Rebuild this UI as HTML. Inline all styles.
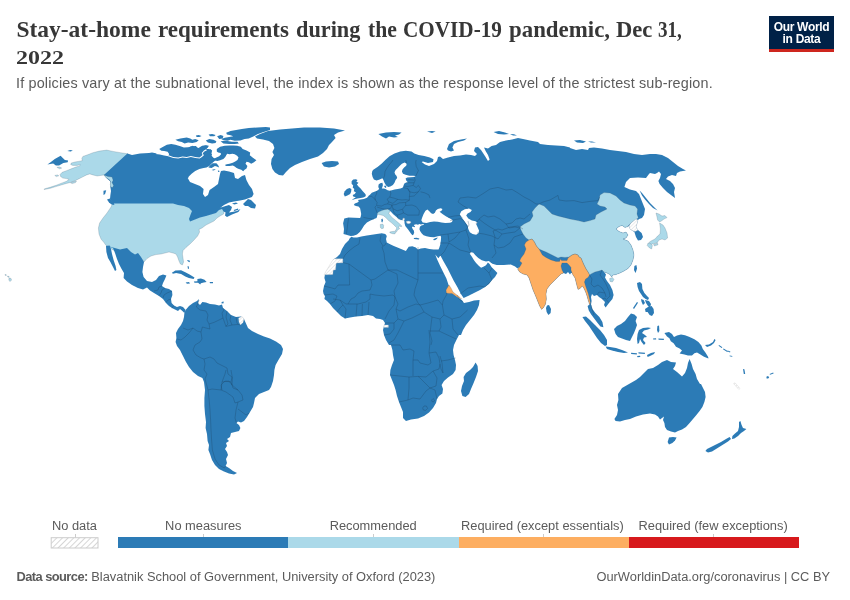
<!DOCTYPE html>
<html lang="en">
<head>
<meta charset="utf-8">
<title>Stay-at-home requirements during the COVID-19 pandemic</title>
<style>
html,body{margin:0;padding:0;background:#fff;}
body{width:850px;height:600px;position:relative;overflow:hidden;font-family:"Liberation Sans",sans-serif;}
.title{position:absolute;left:16px;top:16.6px;margin:0;font-family:"Liberation Serif",serif;font-weight:700;font-size:23.5px;line-height:25px;color:#373737;letter-spacing:0;white-space:nowrap;width:700px;height:52px;}
.title .w{position:absolute;top:0;display:inline-block;transform-origin:0 0;}
.title .yr{position:absolute;left:0;top:29.4px;font-size:18px;letter-spacing:0;display:inline-block;transform:scaleX(1.33);transform-origin:0 0;}
.subtitle{position:absolute;left:16px;top:73.9px;margin:0;font-size:14.4px;line-height:18px;color:#5b5b5b;white-space:nowrap;letter-spacing:0.165px;}
.logo{position:absolute;left:769px;top:16px;width:65px;height:33px;background:#002147;border-bottom:3px solid #ce261e;color:#fff;font-weight:700;font-size:12px;line-height:12px;text-align:center;letter-spacing:-0.3px;}
.logo span{display:block;}
.logo .l1{margin-top:4.6px;}
.legend{position:absolute;left:0;top:0;}
.lbl{position:absolute;top:518px;font-size:12.85px;line-height:15px;color:#5b5b5b;white-space:nowrap;transform:translateX(-50%);}
.bar{position:absolute;top:537.2px;height:11.3px;}
.tick{position:absolute;top:533.5px;width:1px;height:4px;background:#ccc;}
.footer{position:absolute;top:569.3px;font-size:12.85px;line-height:15px;color:#5b5b5b;white-space:nowrap;}
.footer b{font-weight:700;letter-spacing:-0.55px;}
svg{position:absolute;left:0;top:0;}
</style>
</head>
<body>
<h1 class="title"><span class="w" style="left:0.4px;transform:scaleX(1.000)">Stay-at-home</span> <span class="w" style="left:142.4px;transform:scaleX(0.980)">requirements</span> <span class="w" style="left:280.4px;transform:scaleX(0.947)">during</span> <span class="w" style="left:352.4px;transform:scaleX(0.923)">the</span> <span class="w" style="left:387.4px;transform:scaleX(0.902)">COVID-19</span> <span class="w" style="left:493.4px;transform:scaleX(0.973)">pandemic,</span> <span class="w" style="left:600.4px;transform:scaleX(0.961)">Dec</span> <span class="w" style="left:642.4px;transform:scaleX(0.811)">31,</span> <span class="yr">2022</span></h1>
<p class="subtitle">If policies vary at the subnational level, the index is shown as the response level of the strictest sub-region.</p>
<div class="logo"><span class="l1">Our World</span><span>in Data</span></div>
<svg width="850" height="600" viewBox="0 0 850 600">
<defs><pattern id="hatchm" patternUnits="userSpaceOnUse" width="2.6" height="2.6" patternTransform="rotate(45)"><rect width="2.6" height="2.6" fill="#fff"/><line x1="0" y1="0" x2="0" y2="2.6" stroke="#e0e0e0" stroke-width="1.2"/></pattern></defs>
<g stroke="#34495e" stroke-opacity="0.55" stroke-width="0.35" stroke-linejoin="round">
<path d="M113.6,201.0L111.0,207.0L107.0,213.0L103.0,218.0L99.6,223.0L98.4,228.0L99.0,234.0L101.0,239.0L104.0,242.6L106.0,245.4L113.0,250.0L120.0,252.0L127.0,251.0L131.0,254.0L135.0,256.0L138.0,255.0L141.0,258.0L144.0,262.0L147.0,258.6L151.0,256.0L156.0,254.6L161.0,254.0L165.0,253.0L169.0,252.0L173.0,253.0L176.0,254.0L177.6,257.0L179.0,261.0L180.4,264.0L182.4,265.0L183.6,262.0L183.0,258.0L182.4,254.0L183.0,250.6L186.0,247.4L190.0,244.0L194.0,240.0L197.6,236.0L199.6,232.0L199.0,229.4L202.0,228.0L206.0,225.0L210.0,223.0L214.0,221.0L217.0,218.0L220.0,216.0L223.6,214.0L224.4,210.0L222.0,207.0L210.0,207.0L190.0,207.0L170.0,201.0Z" fill="#abd9e9"/>
<path d="M127.9,153.8L120.5,152.7L113.1,151.4L106.7,150.1L99.3,151.1L92.9,152.7L87.6,154.8L82.9,156.4L81.8,158.5L82.4,160.6L79.7,161.2L74.9,162.0L71.2,163.1L70.7,164.6L72.8,165.4L77.1,165.4L80.2,164.6L79.7,165.9L76.0,167.0L71.8,168.6L66.5,170.7L62.2,172.3L60.1,174.4L60.6,176.5L62.8,178.1L66.5,178.6L69.1,179.4L66.5,181.3L62.2,182.9L56.9,185.0L50.6,187.1L44.2,188.9L44.2,189.6L50.6,188.2L55.9,186.6L61.2,185.0L66.5,183.4L70.7,182.4L74.9,180.8L78.1,179.2L82.4,177.1L86.6,174.9L89.8,173.9L92.9,174.9L97.2,176.0L104.1,174.9L107.8,176.5L112.0,177.1L113.1,180.2L112.0,182.4L113.6,185.5L112.5,187.6L110.9,187.1L110.4,184.5L110.7,181.8L109.4,179.7L106.7,178.1L104.4,175.2Z" fill="#abd9e9"/>
<path d="M56.9,167.3L59.6,167.0L61.7,168.1L59.6,168.8Z" fill="#abd9e9"/>
<path d="M54.8,175.5L57.5,174.9L58.8,175.8L56.4,176.6Z" fill="#abd9e9"/>
<path d="M70.7,182.9L73.9,181.5L76.5,181.1L75.5,182.6L72.3,183.6Z" fill="#abd9e9"/>
<path d="M47.4,164.4L50.6,162.2L54.8,159.1L60.6,155.7L62.8,158.0L64.9,159.9L68.1,160.6L67.7,162.2L63.3,163.1L59.1,165.4L55.9,165.4L53.2,163.5L50.1,164.1Z" fill="#2c7bb6" stroke="none"/>
<path d="M67.3,151.1L70.2,150.1L72.8,150.4L70.7,151.4Z" fill="#2c7bb6" stroke="none"/>
<path d="M127.4,153.6L132.0,155.0L140.0,153.6L149.0,153.0L152.0,152.4L157.0,153.6L155.6,153.9L159.9,154.6L164.1,155.4L168.4,156.3L169.1,153.9L167.6,151.8L164.1,151.1L161.3,150.7L159.2,149.0L162.7,146.9L166.9,144.8L171.2,144.1L175.4,144.8L180.4,146.2L183.9,147.6L188.1,147.3L192.4,146.2L195.9,145.9L197.3,147.6L199.4,148.3L202.2,146.2L205.8,145.5L208.6,146.2L206.5,149.0L208.6,149.0L210.7,150.4L210.0,152.5L212.1,153.9L211.4,156.3L214.2,158.2L216.6,158.9L214.7,161.0L212.1,163.1L209.3,165.9L206.5,167.4L203.6,168.1L199.4,169.0L195.2,170.9L191.6,173.7L188.8,176.5L187.4,179.4L188.0,178.6L190.0,182.0L195.0,184.0L200.0,186.0L203.6,189.0L203.0,194.0L205.0,197.0L208.0,195.0L209.6,190.0L214.0,187.0L218.0,184.0L219.0,179.0L220.0,174.0L221.0,171.0L224.0,170.6L229.0,171.4L234.0,173.0L235.0,178.0L238.0,179.0L242.0,176.0L245.0,175.0L246.4,180.0L249.0,185.0L252.0,189.0L253.6,194.0L252.0,197.0L249.0,198.0L245.0,199.4L240.0,200.6L234.0,201.4L229.0,202.6L224.0,205.0L220.0,208.0L224.0,206.4L229.0,205.0L232.0,207.0L231.0,210.0L229.0,212.6L232.0,212.0L237.0,211.0L240.4,209.0L238.4,212.0L232.0,214.6L227.0,217.0L225.0,215.4L225.6,212.6L223.6,211.4L222.0,209.0L219.0,210.0L216.0,213.0L211.0,214.6L206.0,216.0L200.0,217.4L195.0,219.4L190.0,221.6L189.0,219.0L190.4,215.0L192.0,211.0L189.0,208.0L184.0,206.0L178.0,205.0L173.0,203.4L140.0,203.4L113.6,203.4L113.6,203.4L112.0,201.6L110.0,199.0L110.4,195.0L111.0,191.0L110.4,187.0L111.6,184.0L110.0,181.0L107.0,178.6L104.0,175.0Z" fill="#2c7bb6" stroke="none"/>
<path d="M107.0,199.4L110.0,198.6L113.6,202.0L114.4,205.0L111.6,204.6L109.0,202.6Z" fill="#2c7bb6" stroke="none"/>
<path d="M103.5,190.8L106.2,190.3L105.1,194.0L103.5,195.1Z" fill="#2c7bb6" stroke="none"/>
<path d="M243.0,204.0L248.0,199.0L251.0,200.0L253.0,202.0L256.0,205.0L255.0,208.6L251.0,208.0L248.0,206.0L245.0,206.0Z" fill="#2c7bb6" stroke="none"/>
<path d="M232.0,203.4L236.0,202.6L238.0,203.6L234.4,204.4Z" fill="#2c7bb6" stroke="none"/>
<path d="M233.6,210.0L238.0,208.6L238.4,209.8L234.4,211.0Z" fill="#2c7bb6" stroke="none"/>
<path d="M175.4,139.8L180.4,138.4L186.7,137.4L190.2,138.4L192.4,139.8L195.2,139.1L198.7,140.2L196.6,141.9L192.4,143.1L188.1,142.6L184.6,143.4L181.8,141.9L178.2,141.2Z" fill="#2c7bb6" stroke="none"/>
<path d="M195.9,135.6L198.7,134.9L201.5,136.0L199.4,137.1L196.6,136.9Z" fill="#2c7bb6" stroke="none"/>
<path d="M205.8,140.5L209.3,139.1L213.5,139.8L216.4,141.2L215.6,143.1L212.1,143.4L207.9,142.6Z" fill="#2c7bb6" stroke="none"/>
<path d="M208.6,134.6L212.1,133.9L215.6,134.9L214.2,136.3L210.0,136.3Z" fill="#2c7bb6" stroke="none"/>
<path d="M217.1,136.3L220.6,134.9L223.4,136.0L222.7,138.4L219.2,139.1Z" fill="#2c7bb6" stroke="none"/>
<path d="M226.2,132.8L230.5,130.9L236.1,129.9L241.8,129.0L248.8,128.1L257.3,127.5L265.8,127.1L270.0,127.5L270.0,129.9L262.9,132.3L257.3,134.2L253.8,136.3L248.8,138.4L244.6,139.1L240.4,140.5L234.7,140.8L230.5,139.8L227.6,140.8L223.4,140.2L221.3,139.1L224.8,137.7L229.1,137.0L233.3,136.3L230.5,135.2L226.9,134.6Z" fill="#2c7bb6" stroke="none"/>
<path d="M220.6,141.2L226.2,140.8L231.9,141.7L237.5,141.7L238.9,143.4L234.7,144.1L229.1,144.1L223.4,143.4Z" fill="#2c7bb6" stroke="none"/>
<path d="M255.0,136.6L260.0,134.0L268.0,131.0L280.0,129.4L292.0,128.6L304.0,127.4L320.0,127.4L334.0,128.6L345.0,130.6L338.0,132.6L334.0,135.0L335.6,138.0L332.0,142.0L329.0,145.0L327.0,149.0L323.0,153.0L318.0,156.6L310.0,159.0L302.0,162.0L295.0,165.0L290.0,168.0L286.0,172.0L283.0,175.4L279.0,175.0L275.0,172.6L272.4,169.0L271.0,164.0L271.6,159.0L274.0,155.0L272.4,152.0L274.4,148.0L273.0,144.0L269.0,141.0L263.0,139.4L257.0,138.6Z" fill="#2c7bb6" stroke="none"/>
<path d="M321.6,163.0L326.0,161.4L332.0,161.0L338.0,161.6L339.0,164.0L335.0,166.6L329.0,167.6L324.0,166.4Z" fill="#2c7bb6" stroke="none"/>
<path d="M106.0,245.4L113.0,247.4L120.0,249.4L127.0,248.0L131.0,252.0L135.0,254.6L138.0,253.0L141.0,257.0L144.0,262.0L143.0,267.0L142.4,272.0L143.6,277.0L147.0,281.0L152.0,282.0L156.0,280.0L159.0,276.0L163.0,274.6L166.4,275.4L165.0,279.0L163.0,283.0L162.0,286.0L165.0,288.0L169.0,289.0L172.0,291.0L172.4,295.0L171.0,299.0L171.6,303.0L174.0,305.6L177.0,307.0L180.0,306.0L183.0,307.0L185.6,310.0L184.4,313.0L182.4,311.0L180.0,309.0L178.0,311.0L175.0,309.6L172.0,308.0L169.0,306.0L166.0,303.0L163.0,299.0L159.0,296.0L154.0,293.0L150.0,290.6L147.0,287.6L143.0,289.6L138.0,288.0L132.0,285.0L127.0,281.6L123.6,278.0L124.0,273.0L121.6,269.0L119.0,264.0L117.0,259.0L115.0,253.0L113.0,248.0L110.0,247.0Z" fill="#2c7bb6" stroke="none"/>
<path d="M106.0,246.0L109.6,245.6L111.0,249.0L112.0,254.0L113.6,260.0L115.6,266.0L116.4,270.0L115.0,271.0L113.0,267.0L110.4,262.0L108.0,258.0L106.4,252.0Z" fill="#2c7bb6" stroke="none"/>
<path d="M171.9,272.7L175.4,270.6L181.1,270.3L185.3,272.3L189.6,274.6L194.5,277.4L193.6,279.1L188.9,278.0L185.3,276.5L181.1,274.0L176.1,272.9L172.9,273.8Z" fill="#2c7bb6" stroke="none"/>
<path d="M197.4,279.1L200.9,278.4L204.5,279.8L206.6,281.9L203.8,282.6L200.9,283.3L200.2,284.5L198.1,282.8L194.5,282.8L193.8,281.6L197.4,281.2Z" fill="#2c7bb6" stroke="none"/>
<path d="M185.6,282.4L189.0,282.0L190.0,283.4L187.0,283.8Z" fill="#2c7bb6" stroke="none"/>
<path d="M209.6,282.0L213.0,282.0L213.0,283.2L210.0,283.2Z" fill="#2c7bb6" stroke="none"/>
<path d="M187.0,260.0L189.6,260.6L190.0,262.2L188.0,261.6Z" fill="#2c7bb6" stroke="none"/>
<path d="M187.6,266.0L188.8,266.4L189.0,269.0L187.8,268.6Z" fill="#2c7bb6" stroke="none"/>
<path d="M185.6,310.0L189.0,306.0L193.0,303.0L197.0,301.0L199.0,299.0L198.0,303.0L200.0,305.0L202.4,302.0L206.0,302.4L210.0,304.0L215.0,304.4L219.0,305.6L222.0,304.4L223.0,308.0L227.0,311.0L231.0,315.0L236.0,317.0L241.0,316.4L244.0,319.0L246.0,323.6L248.0,328.0L252.0,331.0L258.0,334.0L264.0,336.4L270.0,338.4L276.0,341.6L281.0,345.0L283.0,349.0L282.0,354.0L279.0,359.0L275.6,365.0L274.4,370.0L274.0,375.0L273.0,381.0L271.0,387.0L269.0,390.0L264.0,392.0L259.0,394.0L255.0,398.0L254.0,403.0L253.0,407.0L250.0,412.0L247.0,417.0L244.0,421.0L241.0,422.4L238.0,421.6L236.4,423.0L239.0,425.0L240.4,428.0L239.0,431.0L235.0,432.0L231.0,433.0L230.0,437.0L227.0,439.0L229.0,441.0L226.0,443.0L227.0,446.0L225.0,449.0L227.0,452.0L228.0,455.0L226.0,459.0L227.0,463.0L225.6,466.0L229.0,468.0L233.0,471.0L237.0,473.0L234.0,474.4L229.0,473.6L224.0,471.6L219.0,469.0L215.0,465.0L212.0,460.0L210.0,454.0L208.4,450.0L209.0,445.0L207.6,441.0L207.0,434.0L205.6,428.0L206.0,422.0L205.0,414.0L204.4,406.0L204.4,398.0L205.0,390.0L204.0,382.0L202.4,378.0L198.0,376.0L193.0,372.0L189.0,367.0L186.0,362.0L183.0,356.0L180.0,350.0L177.0,346.0L175.6,342.0L176.4,338.0L176.0,333.0L178.0,329.0L181.0,325.0L183.0,321.0L184.0,317.0L184.4,313.0Z" fill="#2c7bb6" stroke="none"/>
<path d="M238.6,318.0L242.0,316.4L244.0,319.0L243.0,322.4L240.4,325.0L239.0,322.0Z" fill="url(#hatchm)" stroke="#bbb" stroke-opacity="0.8"/>
<path d="M221.6,302.0L223.6,301.6L223.6,303.2L221.6,303.4Z" fill="#2c7bb6" stroke="none"/>
<path d="M216.8,149.1L220.1,146.8L224.8,145.8L229.5,145.5L233.3,145.4L237.1,145.8L240.8,146.8L242.7,149.1L246.5,150.5L250.2,152.4L249.8,155.2L252.6,157.6L256.4,160.2L254.0,162.3L251.2,163.7L248.8,162.3L246.5,161.8L245.5,163.7L247.4,166.1L246.5,168.4L244.6,169.8L243.2,171.2L241.3,169.8L238.9,168.9L236.6,167.9L234.7,166.5L232.8,165.6L229.5,165.9L226.2,166.1L224.8,165.1L226.7,164.2L229.5,163.7L232.8,162.8L235.2,161.4L237.5,159.9L238.5,157.6L237.1,155.7L234.7,154.3L232.4,153.8L229.5,154.3L227.2,153.8L226.2,155.2L225.3,157.1L223.4,159.0L220.1,160.2L217.3,160.9L214.9,160.4L213.5,159.0L216.4,157.6L219.2,156.2L221.1,154.3L220.6,152.9L218.2,152.4L216.8,151.5Z" fill="#2c7bb6" stroke="none"/>
<path d="M231.2,158.5L232.8,157.4L235.2,156.8L236.1,157.6L234.7,159.0L232.4,159.7Z" fill="#ffffff" stroke="none"/>
<path d="M208.4,167.5L210.2,165.3L212.6,163.2L216.4,163.2L218.2,165.3L219.2,167.5L216.8,166.5L214.9,166.1L211.6,167.9Z" fill="#2c7bb6" stroke="none"/>
<path d="M211.6,170.0L214.0,169.3L215.9,169.4L213.5,170.6Z" fill="#2c7bb6" stroke="none"/>
<path d="M217.8,170.8L219.0,170.6L219.6,171.7L218.2,171.9Z" fill="#2c7bb6" stroke="none"/>
<path d="M203.2,153.8L206.0,151.9L207.9,150.1L210.2,149.1L212.1,150.5L211.6,152.9L210.2,154.8L212.1,156.2L213.5,159.0L212.6,162.3L210.2,163.7L207.9,162.3L206.0,159.5L204.1,156.6Z" fill="#2c7bb6" stroke="none"/>
<path d="M198.9,147.7L202.2,145.8L206.0,145.2L208.8,145.8L207.4,147.7L204.1,149.1L201.3,150.1L199.4,149.1Z" fill="#2c7bb6" stroke="none"/>
<path d="M190.0,146.8L192.8,145.8L195.2,147.2L193.8,149.6L195.2,152.4L192.8,153.8L190.0,152.9Z" fill="#2c7bb6" stroke="none"/>
<path d="M197.1,154.3L199.4,153.4L202.0,153.8L200.4,155.2L198.0,155.5Z" fill="#2c7bb6" stroke="none"/>
<path d="M9.0,278.0L11.0,278.4L11.6,280.0L10.0,281.6L8.8,280.0Z" fill="#abd9e9"/>
<path d="M7.6,276.0L9.2,276.6L9.0,277.4L7.6,276.8Z" fill="#abd9e9"/>
<path d="M5.0,274.4L6.4,274.8L6.2,275.6L5.0,275.2Z" fill="#abd9e9"/>
<path d="M168.1,156.3L173.3,158.0L178.2,158.5L182.5,157.6L186.7,157.9L190.9,157.0L195.2,158.0L199.7,158.6L202.0,156.9L203.9,155.2L202.7,153.2L204.8,151.3L206.8,150.4L206.2,149.3L203.9,150.4L201.7,153.0L202.5,154.9L201.1,156.3L199.4,157.6L195.2,157.0L190.9,156.1L186.7,156.9L182.5,156.6L178.2,157.5L173.3,157.0L168.6,155.2Z" fill="#ffffff" stroke="none"/>
<path d="M104.1,174.9L107.8,176.5L112.0,177.1L113.1,180.2L112.0,182.4L113.6,185.5L112.5,187.6L110.9,187.1L110.4,184.5L110.7,181.8L109.4,179.7L106.7,178.1L104.4,175.8Z" fill="#abd9e9"/>
<path d="M373.3,169.8L377.5,167.0L381.8,163.4L385.3,159.9L389.5,156.3L394.5,153.5L400.2,151.4L405.8,150.7L411.5,151.4L414.3,153.5L418.6,154.9L424.3,156.1L429.9,157.5L433.5,159.2L433.0,162.0L428.0,163.0L423.0,161.4L421.6,162.0L425.0,164.6L429.0,166.0L434.0,164.0L437.0,161.0L438.0,157.0L440.0,156.6L443.0,159.0L448.0,157.4L454.0,156.0L460.0,155.4L466.0,154.6L471.0,155.0L475.0,156.0L477.0,154.0L474.0,151.0L475.0,147.4L478.0,147.0L481.0,150.0L483.0,153.0L485.6,157.0L488.0,161.0L489.6,159.4L488.0,155.0L485.6,151.0L484.0,147.4L488.0,148.6L491.6,146.0L496.0,145.0L500.0,142.0L506.0,140.6L512.0,139.4L518.0,138.0L523.0,139.0L530.0,140.6L538.0,142.0L540.0,144.0L548.0,145.0L556.0,145.4L564.0,146.0L570.0,147.4L570.0,148.0L576.0,150.0L582.0,149.0L588.0,150.0L589.0,148.0L594.0,147.4L602.0,148.6L610.0,150.0L618.0,151.0L626.0,152.0L634.0,154.0L642.0,155.0L650.0,154.0L650.0,154.0L656.0,154.0L662.0,155.0L668.0,158.0L673.0,162.0L678.0,166.0L683.0,169.0L686.0,170.6L680.0,171.4L677.0,173.0L676.0,176.0L672.0,175.0L668.0,176.6L666.0,179.0L670.0,181.0L673.0,184.0L675.0,188.0L674.0,192.0L675.0,198.0L671.0,195.0L667.0,192.0L663.0,188.0L659.6,184.0L658.4,181.0L660.0,178.0L661.0,174.0L659.0,171.4L657.0,173.0L655.0,174.0L650.0,173.0L649.0,174.0L646.0,178.0L638.0,177.4L630.0,178.0L626.0,182.0L624.4,187.0L630.0,189.4L636.0,191.0L639.0,194.0L641.0,199.0L643.0,204.0L645.0,209.0L644.0,215.0L642.0,218.0L639.0,219.0L638.0,220.0L637.0,224.0L636.0,227.0L638.0,230.0L641.6,233.0L643.0,237.0L641.0,240.0L638.0,240.6L636.0,237.0L634.4,232.0L632.0,230.4L630.0,229.0L629.0,226.0L628.0,226.6L625.0,227.4L622.0,225.4L619.0,226.6L616.0,229.0L619.0,231.4L623.0,233.0L626.0,232.0L628.0,235.0L626.0,238.0L623.0,239.0L628.0,241.0L631.0,245.0L633.0,250.0L634.0,255.0L633.0,260.0L631.0,265.0L628.0,268.6L624.0,271.0L620.0,273.0L616.0,274.6L613.0,275.0L611.6,277.0L610.0,274.6L607.0,273.0L604.0,272.0L606.0,274.6L605.0,277.4L607.0,281.0L610.0,285.0L612.4,290.0L613.6,295.0L612.4,299.0L609.0,303.0L605.6,307.4L604.0,305.0L605.0,302.0L602.0,299.0L599.0,297.0L597.0,295.0L594.0,296.0L592.0,294.0L591.0,297.0L591.6,301.0L591.0,304.6L592.4,309.0L595.4,313.0L599.4,317.0L602.4,322.0L603.4,327.2L600.4,326.6L597.2,322.4L594.2,318.6L591.2,314.6L588.8,310.4L587.6,306.0L589.6,304.6L588.4,301.0L587.0,296.0L585.6,292.0L584.0,288.6L582.4,286.0L580.0,288.6L578.0,289.4L577.0,286.0L576.0,282.0L575.0,278.0L573.0,275.0L572.0,273.0L571.0,273.0L570.0,274.6L568.0,272.0L566.0,274.0L563.6,273.0L561.0,274.0L558.0,277.0L554.0,281.0L550.0,285.0L547.0,289.0L546.0,294.0L546.4,299.0L545.6,304.0L543.6,307.4L541.6,309.4L539.6,306.0L538.0,302.0L535.6,296.0L533.0,290.0L531.0,284.0L529.0,278.0L527.0,275.0L523.0,274.0L519.6,272.0L517.6,269.0L519.0,267.4L517.2,268.3L515.1,266.6L510.8,264.5L503.8,264.9L496.7,264.9L492.4,263.8L490.3,262.3L488.9,260.9L486.0,261.6L481.8,260.2L478.3,258.1L475.4,255.3L473.3,252.7L470.5,251.9L469.8,253.8L471.9,256.7L474.0,260.2L476.1,263.0L479.0,265.9L481.1,267.7L483.9,266.6L486.0,265.2L487.9,262.6L489.6,264.0L491.7,267.3L494.5,270.1L497.4,273.0L495.0,277.0L492.0,280.0L489.0,284.0L485.0,287.0L480.0,290.0L474.0,293.0L468.0,296.0L463.6,298.0L462.6,296.6L460.6,293.6L457.6,287.6L453.6,280.6L450.6,274.6L447.6,268.6L443.6,261.6L440.4,255.6L438.4,258.2L435.2,254.6L437.4,260.0L440.4,266.4L443.4,272.4L446.4,278.4L448.4,284.4L451.4,290.4L455.4,295.4L459.6,298.4L462.0,300.2L464.0,303.0L469.0,302.0L474.0,300.6L479.6,300.0L479.0,305.0L477.0,310.0L474.0,315.0L470.0,320.0L466.0,325.0L463.0,330.0L461.0,335.0L459.0,335.0L456.4,340.0L454.0,345.0L453.0,350.0L453.6,355.0L455.0,360.0L456.0,365.0L455.6,370.0L453.0,374.0L448.0,377.6L444.0,381.0L441.6,385.0L443.0,389.0L442.4,393.6L439.0,396.0L437.0,399.0L436.0,403.0L433.0,408.0L429.0,412.4L424.0,416.0L418.0,418.4L411.0,419.6L406.0,421.0L403.0,418.0L403.0,412.0L401.0,407.0L399.0,402.0L397.0,396.0L395.6,390.0L394.0,385.0L392.0,380.0L390.0,375.0L390.4,370.0L392.0,365.0L394.0,360.0L393.0,355.0L392.4,350.0L391.0,345.0L389.0,345.0L386.0,340.0L384.0,335.0L383.0,330.0L384.0,326.0L385.0,323.0L383.0,320.0L380.0,319.0L376.0,318.6L373.0,316.0L368.0,315.0L362.0,316.0L356.0,316.6L350.0,317.4L345.0,318.6L341.0,316.0L337.0,312.0L333.0,308.0L330.0,304.0L327.0,301.0L324.4,299.0L325.0,296.0L323.6,294.0L323.0,291.0L324.0,286.0L325.6,282.0L324.4,278.0L325.0,274.0L328.0,269.0L331.0,264.0L334.0,259.0L337.0,257.0L340.0,254.0L342.0,249.0L345.0,244.0L349.0,240.0L349.2,238.9L351.3,236.8L353.5,237.5L357.0,237.5L361.3,236.4L366.9,235.4L371.9,234.7L376.8,234.0L381.8,233.3L385.3,234.0L386.8,236.1L386.0,238.9L386.8,242.5L389.6,243.9L393.8,246.0L398.1,247.7L402.3,249.5L405.9,251.0L408.7,246.7L412.3,246.3L415.8,247.4L417.9,249.5L420.8,248.6L425.0,248.1L429.3,249.1L433.5,249.5L438.5,249.5L439.2,248.1L440.3,244.6L440.9,240.3L441.1,237.6L440.6,235.8L437.8,236.2L434.0,237.2L430.2,236.9L426.5,236.2L423.6,235.3L421.8,233.4L420.4,231.5L419.4,229.2L419.9,226.8L421.3,225.4L424.1,224.7L423.2,224.0L420.8,224.5L419.4,224.0L418.0,224.7L416.1,224.3L414.2,224.7L413.8,225.4L415.2,226.2L414.4,227.3L412.8,226.4L411.9,227.3L412.8,229.2L413.8,230.6L414.2,232.5L413.5,234.4L412.4,235.3L410.9,233.4L409.5,231.5L408.1,229.6L406.7,227.8L405.3,225.9L404.6,223.5L404.4,221.2L403.7,219.3L402.5,220.2L400.6,219.8L398.2,218.4L395.9,216.5L393.5,214.6L391.8,212.7L390.5,211.1L389.8,211.7L387.4,210.5L385.1,211.0L381.8,212.2L378.9,213.4L377.7,214.1L376.6,218.0L374.0,219.1L370.5,220.5L366.9,222.6L364.1,225.5L362.0,229.0L359.8,232.1L357.0,234.4L353.5,235.8L350.6,236.1L347.1,235.0L343.5,234.0L344.0,229.0L343.1,223.3L344.3,218.4L348.5,217.4L354.2,217.7L359.8,218.0L363.4,217.4L359.6,218.2L360.6,217.2L361.2,214.0L360.6,210.8L360.1,208.2L358.5,206.6L355.9,206.1L353.8,205.0L354.8,203.6L357.5,202.4L358.8,201.5L358.0,199.9L360.6,199.6L363.8,198.9L367.0,197.8L368.6,196.0L370.2,194.4L371.8,192.8L374.4,191.8L377.1,190.7L379.2,189.1L378.3,187.0L378.6,184.4L380.2,183.3L382.4,182.8L382.9,184.9L382.4,187.0L381.8,188.6L383.9,188.6L385.5,189.1L387.6,190.2L389.8,190.7L391.9,190.2L394.5,189.6L397.7,189.1L400.4,188.6L402.5,187.7L403.5,185.9L404.1,183.8L405.6,182.8L407.8,182.2L406.2,180.6L405.6,178.5L407.2,177.5L410.4,177.2L414.1,176.9L415.7,176.1L413.1,175.7L409.4,175.7L405.6,174.8L403.0,173.8L401.9,171.6L402.5,169.5L404.1,167.4L406.2,165.8L406.7,163.7L404.6,162.6L401.9,163.7L399.8,165.8L397.7,167.9L395.6,170.1L394.5,172.2L395.1,174.3L396.6,175.9L397.2,178.0L395.6,180.1L394.5,182.8L392.9,184.9L390.3,186.5L388.2,187.0L386.1,185.4L384.5,182.8L383.4,180.1L382.4,178.2L379.7,179.6L376.5,180.6L373.9,179.6L372.6,176.9L371.8,173.8L372.3,171.1Z" fill="#2c7bb6" stroke="none"/>
<path d="M421.3,220.2L422.2,217.4L423.6,214.1L425.5,210.8L427.4,209.4L429.3,211.3L431.2,213.2L433.1,214.1L434.9,212.7L435.9,210.4L437.8,208.9L440.6,208.3L442.5,208.9L441.5,210.8L439.6,211.8L442.5,214.1L446.2,216.5L450.0,218.4L452.8,220.2L451.9,222.1L450.0,222.8L445.3,223.1L441.5,222.6L437.8,221.8L434.0,221.5L430.2,222.1L426.5,223.1L422.7,222.6Z" fill="#ffffff" stroke="none"/>
<path d="M459.8,214.2L461.3,211.3L464.8,209.2L469.0,208.5L471.9,209.9L470.5,212.0L467.6,213.5L466.2,215.6L468.3,218.4L471.9,220.5L475.4,221.3L477.5,222.7L476.1,224.1L477.5,226.9L479.0,230.5L478.5,233.3L476.1,234.7L472.6,234.0L469.8,232.3L468.3,229.0L467.6,225.5L465.5,222.7L463.4,219.8L461.3,217.0Z" fill="#ffffff" stroke="none"/>
<path d="M351.6,181.2L353.2,179.6L355.9,179.3L357.5,180.1L356.4,181.7L358.5,182.8L356.9,184.4L358.5,186.5L360.6,188.6L362.8,191.2L364.9,193.4L365.9,194.9L365.4,196.5L363.3,197.6L360.6,197.9L357.5,198.5L354.3,199.3L351.6,200.3L353.8,198.4L355.9,197.3L353.2,196.5L352.7,194.9L354.8,193.9L355.9,192.3L353.8,191.2L354.3,189.1L352.7,187.5L353.2,185.4L351.6,183.8Z" fill="#2c7bb6" stroke="none"/>
<path d="M343.7,193.9L344.8,191.2L346.9,189.1L349.5,188.1L351.4,189.1L351.1,191.8L350.1,193.9L347.4,195.5L344.8,196.5Z" fill="#2c7bb6" stroke="none"/>
<path d="M383.9,185.9L385.5,185.4L386.6,187.0L385.3,188.1Z" fill="#2c7bb6" stroke="none"/>
<path d="M378.4,134.0L386.0,132.6L394.0,132.0L401.6,132.6L399.0,134.6L395.0,135.4L398.0,137.0L394.0,137.4L389.0,136.6L386.0,138.6L382.0,136.6Z" fill="#2c7bb6" stroke="none"/>
<path d="M427.0,131.6L432.0,131.0L435.6,131.6L432.0,133.0Z" fill="#2c7bb6" stroke="none"/>
<path d="M447.0,149.0L449.0,144.0L454.0,141.0L461.0,139.4L467.0,138.6L464.0,140.6L458.0,142.0L454.0,144.0L452.4,147.4L454.0,150.6L451.0,151.4L448.0,150.6Z" fill="#2c7bb6" stroke="none"/>
<path d="M493.6,132.0L499.0,131.0L505.0,132.6L509.0,134.0L504.0,134.6L498.0,134.0Z" fill="#2c7bb6" stroke="none"/>
<path d="M510.0,134.0L514.0,134.2L517.0,135.4L513.0,135.4Z" fill="#2c7bb6" stroke="none"/>
<path d="M574.0,140.6L580.0,140.0L586.0,141.4L583.0,143.0L577.0,142.6Z" fill="#2c7bb6" stroke="none"/>
<path d="M588.0,141.4L592.0,141.4L596.0,142.6L591.0,142.6Z" fill="#2c7bb6" stroke="none"/>
<path d="M639.6,190.6L642.0,193.0L646.0,198.0L650.0,203.0L654.0,207.0L657.6,210.6L653.0,208.0L649.0,204.0L645.0,199.4L642.0,195.4Z" fill="#2c7bb6" stroke="none"/>
<path d="M381.3,219.3L382.4,218.6L383.0,220.2L382.4,222.4L381.5,222.1Z" fill="#2c7bb6" stroke="none"/>
<path d="M413.8,238.1L416.6,237.8L419.4,238.4L418.9,239.5L416.1,239.3L414.0,239.1Z" fill="#2c7bb6" stroke="none"/>
<path d="M433.2,239.3L435.9,238.1L437.8,237.5L437.0,238.8L435.4,240.0L433.8,240.3Z" fill="#2c7bb6" stroke="none"/>
<path d="M377.1,213.2L378.9,211.8L381.8,210.5L385.1,209.4L387.4,208.9L389.3,209.9L390.5,211.3L389.3,212.2L388.8,213.6L390.2,215.5L392.6,217.9L395.4,220.2L398.2,222.6L400.6,224.7L402.0,226.2L401.1,226.8L399.4,225.9L398.7,227.3L399.6,228.7L398.2,229.4L397.3,230.6L396.4,232.0L395.2,231.1L396.2,229.2L396.8,227.8L395.4,226.4L393.5,224.5L391.2,222.6L388.8,220.7L386.9,218.8L385.1,216.9L383.2,215.5L380.8,214.9L378.9,214.6L377.5,214.1Z" fill="#abd9e9"/>
<path d="M389.6,232.0L392.1,231.5L394.9,231.3L395.9,232.0L394.9,233.9L392.6,233.7L390.2,232.9Z" fill="#abd9e9"/>
<path d="M380.2,224.5L382.7,224.0L383.6,225.4L383.4,228.2L381.8,228.7L380.5,227.8Z" fill="#abd9e9"/>
<path d="M406.2,221.6L408.1,220.9L410.5,221.5L410.9,222.8L409.1,223.7L406.9,223.3Z" fill="url(#hatchm)" stroke="#bbb" stroke-opacity="0.8"/>
<path d="M402.5,220.2L402.9,218.4L404.1,217.9L404.6,219.3L403.9,220.5Z" fill="url(#hatchm)" stroke="#bbb" stroke-opacity="0.8"/>
<path d="M520.0,227.0L524.0,224.0L530.0,221.0L533.0,216.0L532.0,212.0L535.0,208.0L539.0,204.0L544.0,206.0L548.0,210.0L552.0,214.0L558.0,216.0L564.0,217.4L570.0,219.0L578.0,220.6L584.0,222.0L590.0,220.6L595.0,219.0L596.0,215.0L601.0,212.0L607.0,209.0L605.0,207.0L600.0,206.0L597.0,204.0L599.0,200.0L600.0,195.0L604.0,192.6L610.0,193.0L616.0,196.0L620.0,200.0L624.0,203.0L630.0,205.0L635.0,206.0L637.6,209.0L637.0,214.0L638.4,218.0L635.0,220.0L631.0,223.0L628.0,226.0L628.0,226.6L625.0,227.4L622.0,225.4L619.0,226.6L616.0,229.0L619.0,231.4L623.0,233.0L626.0,232.0L628.0,235.0L626.0,238.0L623.0,239.0L628.0,241.0L631.0,245.0L633.0,250.0L634.0,255.0L633.0,260.0L631.0,265.0L628.0,268.6L624.0,271.0L620.0,273.0L616.0,274.6L613.0,275.0L611.6,277.0L610.0,274.6L607.0,273.0L604.0,272.0L602.0,270.0L599.0,271.0L595.0,272.0L592.0,273.4L589.6,275.0L588.0,272.0L586.0,269.0L584.0,265.0L582.4,261.4L581.0,258.0L579.0,257.0L578.0,255.0L575.0,254.0L572.0,255.0L569.0,257.0L565.0,257.4L561.0,257.0L558.0,258.0L554.0,256.0L550.0,254.0L546.0,252.0L542.4,250.6L539.0,249.0L536.4,246.0L534.4,242.0L532.0,239.0L529.0,240.0L526.0,238.0L523.0,234.0L521.0,230.0Z" fill="#abd9e9"/>
<path d="M609.6,278.6L612.4,277.4L614.0,279.4L612.4,282.0L610.0,281.4Z" fill="#abd9e9"/>
<path d="M634.4,266.0L636.4,265.0L637.0,268.6L635.6,273.0L634.0,270.0Z" fill="#2c7bb6" stroke="none"/>
<path d="M529.0,240.0L532.0,239.0L534.4,242.0L536.4,246.0L539.0,249.0L541.0,252.6L542.4,255.0L546.0,257.4L551.0,260.0L556.0,261.4L559.6,261.4L560.4,259.0L561.6,260.6L567.0,260.6L568.0,258.0L572.0,255.0L575.0,254.0L578.0,255.0L579.0,257.0L581.0,258.0L582.4,261.4L584.0,265.0L586.0,269.0L588.0,272.0L589.6,275.0L588.0,277.4L585.6,279.0L584.4,282.0L585.6,286.0L587.0,290.0L588.4,294.0L589.6,299.0L590.4,303.0L589.6,304.6L588.4,301.0L587.0,296.0L585.6,292.0L584.0,288.6L582.4,286.0L580.0,288.6L578.0,289.4L577.0,286.0L576.0,282.0L575.0,278.0L573.0,275.0L572.0,273.0L571.0,270.0L571.0,267.4L569.0,265.0L567.0,263.0L562.0,263.0L561.0,266.0L562.0,270.0L563.6,273.0L561.0,274.0L558.0,277.0L554.0,281.0L550.0,285.0L547.0,289.0L546.0,294.0L546.4,299.0L545.6,304.0L543.6,307.4L541.6,309.4L539.6,306.0L538.0,302.0L535.6,296.0L533.0,290.0L531.0,284.0L529.0,278.0L527.0,275.0L523.0,274.0L519.6,272.0L517.6,269.0L519.0,267.4L520.0,266.6L522.0,263.0L519.6,261.0L521.0,258.0L524.0,254.0L526.0,249.0L524.4,245.0L526.0,242.0Z" fill="#fdae61"/>
<path d="M547.0,305.4L549.0,305.0L551.0,309.0L550.6,313.0L548.4,315.0L546.6,312.0L546.0,308.0Z" fill="#2c7bb6" stroke="none"/>
<path d="M629.0,226.0L631.0,223.0L636.0,219.0L638.0,220.0L637.0,224.0L636.0,227.0L638.0,230.0L635.0,231.6L632.0,230.4L630.0,229.0Z" fill="url(#hatchm)" stroke="#bbb" stroke-opacity="0.8"/>
<path d="M656.0,213.0L659.0,214.0L662.0,216.0L665.0,215.6L667.0,217.6L664.0,219.0L662.0,220.6L659.6,222.0L657.6,220.0L657.0,217.0Z" fill="#abd9e9"/>
<path d="M659.6,223.0L663.0,225.0L665.0,228.0L667.0,233.0L667.6,238.0L665.0,240.0L662.0,239.0L659.0,240.0L657.0,243.0L654.0,243.6L651.0,244.4L649.0,242.4L651.0,241.0L655.0,239.0L657.6,236.0L660.0,234.0L660.4,229.0Z" fill="#abd9e9"/>
<path d="M648.0,243.0L650.4,243.6L652.4,245.6L651.6,249.0L649.6,248.0L647.2,245.6Z" fill="#abd9e9"/>
<path d="M653.6,244.4L657.6,243.2L658.0,244.8L654.4,246.0Z" fill="#abd9e9"/>
<path d="M582.4,317.0L586.0,316.4L590.0,320.0L595.0,325.0L600.0,330.0L604.0,335.0L607.0,340.0L607.0,345.0L605.0,346.0L601.0,343.0L597.0,338.0L593.0,332.0L589.0,326.0L585.0,321.0Z" fill="#2c7bb6" stroke="none"/>
<path d="M605.6,346.4L610.0,347.0L616.0,348.0L622.0,350.0L628.0,352.4L624.0,353.0L618.0,352.0L612.0,350.4L607.0,349.0Z" fill="#2c7bb6" stroke="none"/>
<path d="M631.0,352.8L637.0,353.2L636.8,354.4L631.2,354.0Z" fill="#2c7bb6" stroke="none"/>
<path d="M638.4,352.2L645.0,352.8L644.8,354.0L638.6,353.6Z" fill="#2c7bb6" stroke="none"/>
<path d="M637.0,356.0L640.0,355.8L640.4,357.0L637.6,357.2Z" fill="#2c7bb6" stroke="none"/>
<path d="M647.0,355.0L651.0,353.0L655.0,352.0L654.0,354.0L650.0,356.0L647.6,357.0Z" fill="#2c7bb6" stroke="none"/>
<path d="M614.0,329.0L617.0,326.0L621.0,324.0L625.0,321.0L628.0,317.0L631.0,313.6L634.4,314.4L637.0,317.0L635.6,321.0L637.0,325.0L635.6,329.0L634.0,333.0L632.0,337.0L630.0,341.0L626.0,340.0L622.0,338.4L618.0,337.0L615.6,334.0Z" fill="#2c7bb6" stroke="none"/>
<path d="M639.0,330.0L643.0,328.0L648.0,327.6L651.0,328.0L648.0,329.6L644.0,330.4L642.0,333.0L645.0,335.0L647.0,337.0L644.0,337.6L643.0,340.0L645.6,343.0L644.0,345.0L641.6,342.0L640.0,339.0L639.0,343.0L637.6,344.0L637.0,339.0L637.6,334.0Z" fill="#2c7bb6" stroke="none"/>
<path d="M657.4,326.0L659.0,325.6L659.4,331.0L658.0,333.0L657.0,330.0Z" fill="#2c7bb6" stroke="none"/>
<path d="M653.0,338.4L656.0,338.2L656.2,339.6L653.2,339.6Z" fill="#2c7bb6" stroke="none"/>
<path d="M658.4,338.6L664.0,338.8L663.8,340.0L658.6,339.8Z" fill="#2c7bb6" stroke="none"/>
<path d="M664.4,333.0L669.0,332.0L672.0,334.0L674.0,337.0L677.0,335.6L681.0,334.4L685.0,335.2L689.0,336.8L694.4,339.2L698.4,342.0L701.4,345.6L702.8,349.0L705.4,352.4L708.2,357.0L708.4,358.6L704.0,356.8L700.0,354.2L697.0,352.6L694.4,353.2L692.0,355.6L688.0,355.6L684.4,354.4L679.6,353.6L682.0,350.4L679.6,348.4L676.0,346.8L673.6,343.2L670.8,341.2L669.4,338.2L667.0,336.4Z" fill="#2c7bb6" stroke="none"/>
<path d="M705.0,345.0L709.0,344.4L713.0,342.0L714.4,339.0L715.6,340.0L714.0,343.0L711.0,345.6L707.0,347.0Z" fill="#2c7bb6" stroke="none"/>
<path d="M719.0,345.0L722.4,347.2L721.6,348.0L718.6,345.8Z" fill="#2c7bb6" stroke="none"/>
<path d="M723.6,348.4L728.0,351.2L727.2,352.0L723.0,349.2Z" fill="#2c7bb6" stroke="none"/>
<path d="M637.0,283.0L640.0,282.0L642.0,284.0L642.4,289.0L644.4,293.0L647.0,296.0L649.0,298.0L648.0,300.0L645.6,299.0L643.0,297.0L641.0,294.0L639.0,291.0L637.6,287.0Z" fill="#2c7bb6" stroke="none"/>
<path d="M641.0,299.0L643.6,300.0L645.0,303.0L643.0,305.0L641.6,302.0Z" fill="#2c7bb6" stroke="none"/>
<path d="M645.0,300.0L649.0,301.0L651.0,304.0L650.0,308.0L648.0,306.0L646.0,303.0Z" fill="#2c7bb6" stroke="none"/>
<path d="M645.0,309.0L648.0,307.0L651.6,306.0L653.6,309.0L654.0,313.0L652.0,316.0L649.6,315.0L647.6,312.0L645.6,312.0Z" fill="#2c7bb6" stroke="none"/>
<path d="M633.0,308.0L637.0,302.0L638.0,302.8L634.0,309.0Z" fill="#2c7bb6" stroke="none"/>
<path d="M334.0,258.8L342.8,258.8L342.8,262.8L336.5,263.1L336.0,264.5L335.5,269.8L333.2,270.2L332.8,274.5L324.2,274.8L325.8,271.5L328.0,268.0L330.0,264.5L332.0,261.2Z" fill="url(#hatchm)" stroke="#bbb" stroke-opacity="0.8"/>
<path d="M446.0,290.0L449.0,285.0L451.0,288.0L453.0,292.0L457.0,295.0L460.0,297.4L461.6,299.0L459.0,298.0L455.0,295.4L452.0,293.4L449.0,293.4L446.4,293.0Z" fill="#fdae61"/>
<path d="M384.0,325.0L388.4,325.0L388.4,327.4L384.0,327.4Z" fill="url(#hatchm)" stroke="#bbb" stroke-opacity="0.8"/>
<path d="M618.0,394.0L622.0,388.0L629.0,384.0L636.0,380.0L640.0,377.0L644.0,373.0L648.0,369.0L653.0,368.0L658.0,365.0L662.0,362.0L667.0,360.0L671.0,362.0L676.0,362.4L675.0,366.0L673.0,369.0L677.0,372.0L682.0,376.4L685.0,373.0L687.0,368.0L688.0,363.0L689.6,359.0L691.6,364.0L693.0,369.0L695.6,374.0L697.0,379.0L700.0,384.0L701.0,384.0L703.0,388.0L705.0,392.0L705.6,397.0L704.4,402.0L702.4,407.0L699.6,411.0L696.4,415.0L693.0,419.0L689.6,423.0L686.0,427.0L682.0,429.6L678.0,431.0L675.0,432.4L671.0,431.6L667.0,430.0L665.0,427.0L664.4,423.0L663.0,420.0L664.0,416.4L662.0,418.0L660.0,419.6L658.0,416.4L655.0,414.4L650.0,413.6L643.0,414.4L636.0,416.4L630.0,419.0L625.0,420.0L620.0,421.6L615.6,421.0L614.4,419.0L617.0,415.0L618.0,410.0L617.0,405.0L618.4,400.0L618.0,394.0Z" fill="#2c7bb6" stroke="none"/>
<path d="M669.0,437.6L673.0,437.0L676.6,437.6L675.0,440.4L672.4,443.0L669.0,444.4L667.6,442.0Z" fill="#2c7bb6" stroke="none"/>
<path d="M739.0,422.0L740.4,421.0L741.6,425.0L743.0,428.0L746.4,429.0L744.0,431.0L741.0,433.0L738.0,436.0L734.4,438.4L732.0,439.0L732.4,436.0L735.0,433.6L738.0,431.0L739.0,427.0Z" fill="#2c7bb6" stroke="none"/>
<path d="M729.6,437.0L731.0,439.0L728.0,441.6L724.0,444.0L720.0,446.4L716.0,449.0L712.0,451.6L708.0,452.4L705.4,451.0L707.0,449.0L711.0,447.0L716.0,444.4L721.0,442.0L726.0,439.0Z" fill="#2c7bb6" stroke="none"/>
<path d="M733.6,383.6L735.0,382.8L740.0,388.4L738.8,389.4Z" fill="url(#hatchm)" stroke="#bbb" stroke-opacity="0.8"/>
<path d="M475.6,362.4L477.6,366.0L478.0,371.0L476.0,377.0L473.6,383.0L471.0,389.0L469.0,394.0L465.6,397.0L462.4,396.0L461.0,391.0L462.0,386.0L464.0,381.0L463.6,377.0L466.0,373.0L470.0,370.0L473.0,367.0Z" fill="#2c7bb6" stroke="none"/>
<path d="M727.6,350.4L730.4,351.6L730.0,352.4L727.4,351.2Z" fill="#2c7bb6" stroke="none"/>
<path d="M729.6,355.4L732.4,356.0L732.2,356.8L729.6,356.2Z" fill="#2c7bb6" stroke="none"/>
<path d="M743.0,369.0L744.4,369.2L745.2,374.0L743.8,374.0Z" fill="#2c7bb6" stroke="none"/>
<path d="M766.4,376.8L768.0,376.0L769.2,377.2L768.2,378.6L766.6,378.4Z" fill="#2c7bb6" stroke="none"/>
<path d="M769.6,374.0L773.2,372.6L773.6,373.4L770.0,374.8Z" fill="#2c7bb6" stroke="none"/>
</g>
<g fill="none" stroke="#1c3f5e" stroke-opacity="0.6" stroke-width="0.5" stroke-linejoin="round">
<path d="M199.0,300.0L198.0,303.0L196.4,307.0L200.0,310.0L206.0,311.0L208.0,315.0L207.0,320.0L209.0,324.0"/>
<path d="M209.0,324.0L214.0,322.4L219.0,320.0L223.0,318.0L222.0,313.0L224.0,310.0L223.0,308.0"/>
<path d="M227.0,311.0L226.0,317.0L228.0,324.0L225.6,326.4"/>
<path d="M231.0,315.0L230.0,320.0L232.0,325.0"/>
<path d="M236.0,317.0L237.0,323.0L238.0,324.4"/>
<path d="M223.0,318.0L226.0,326.4L232.0,325.0L238.0,324.4L240.4,325.0"/>
<path d="M209.0,324.0L210.0,329.0L206.0,328.0L202.4,327.0L201.0,332.0L202.0,339.0L200.0,342.0"/>
<path d="M183.0,328.0L188.0,330.0L193.0,328.0L197.0,331.0L201.0,332.0"/>
<path d="M177.0,339.0L181.0,340.0L185.0,337.0L189.0,333.0L193.0,328.0"/>
<path d="M200.0,342.0L195.0,345.0L193.0,350.0L196.0,355.0L201.0,358.0L204.0,359.0"/>
<path d="M204.0,359.0L205.0,364.0L204.0,370.0L207.0,374.0L205.0,379.0L207.0,386.0L208.0,390.0"/>
<path d="M204.0,359.0L210.0,357.0L214.0,359.0L217.0,363.0L223.0,366.0L227.0,368.0L228.0,374.0L232.0,377.0L231.0,382.0"/>
<path d="M231.0,382.0L225.0,381.0L221.0,385.0L222.0,390.0"/>
<path d="M231.0,382.0L233.0,388.0L238.0,390.0"/>
<path d="M162.0,286.0L159.0,287.0L158.0,290.0L154.0,291.0"/>
<path d="M165.0,288.0L162.0,290.0L161.0,293.0L159.0,295.6"/>
<path d="M172.0,291.0L167.0,293.0L164.0,295.0L163.0,298.0"/>
<path d="M171.0,299.0L168.0,300.0L166.0,302.4"/>
<path d="M174.0,305.6L172.4,307.0L172.0,308.4"/>
<path d="M208.0,390.0L209.2,400.0L210.0,410.0L210.6,420.0L211.0,430.0L211.6,440.0L212.4,450.0L215.0,459.0L219.0,465.0L224.4,468.0L225.6,466.0"/>
<path d="M208.0,390.0L212.0,389.0L221.0,390.0L222.0,382.0L229.0,381.0L232.0,385.0L238.0,390.0L242.0,395.0L243.0,400.0L238.0,402.0"/>
<path d="M221.0,390.0L226.0,392.0L233.0,397.0L235.0,403.0L238.0,402.0"/>
<path d="M238.0,402.0L236.0,410.0L235.0,418.0L236.4,423.0"/>
<path d="M238.0,409.0L242.0,412.0L246.0,415.0L249.4,413.0"/>
<path d="M222.0,382.0L225.0,374.0L226.0,370.0"/>
<path d="M232.0,385.0L232.4,378.0L231.0,370.0"/>
<path d="M360.0,238.0L359.0,244.0L354.0,247.0L349.0,251.0L345.0,255.0L343.0,259.0"/>
<path d="M343.0,262.6L349.0,264.0L360.0,272.0L371.0,280.0L375.0,279.0L388.0,270.0"/>
<path d="M388.0,270.0L385.0,262.0L384.0,253.0L382.0,247.0L385.0,245.0L386.0,243.0"/>
<path d="M381.0,235.0L380.0,241.0L383.0,246.0"/>
<path d="M349.0,264.0L349.6,285.0L338.0,285.0L335.0,289.0L332.0,288.0L324.0,286.0"/>
<path d="M371.0,280.0L372.0,285.0L370.0,290.0L362.0,291.0L358.0,293.0L355.0,297.0L351.0,299.0L348.0,304.0"/>
<path d="M388.0,270.0L397.0,274.0L398.0,283.0L394.0,291.0L395.0,297.0"/>
<path d="M418.0,247.0L418.0,273.0L443.0,273.0"/>
<path d="M388.0,270.0L397.0,270.0L418.0,280.0L418.0,273.0"/>
<path d="M418.0,280.0L415.0,289.0L414.0,295.0L418.0,303.0L420.0,305.0"/>
<path d="M370.0,294.0L375.0,295.0L384.0,296.0L393.0,295.0L395.0,297.0"/>
<path d="M395.0,297.0L394.0,305.0L389.0,311.0L385.0,319.0"/>
<path d="M395.0,297.0L398.0,304.0L396.0,309.0L400.0,311.0L408.0,307.0L416.0,304.0L420.0,305.0"/>
<path d="M420.0,305.0L428.0,303.0L438.0,300.0L442.4,305.0L444.0,315.0"/>
<path d="M442.4,305.0L443.0,301.0L447.0,294.0L446.0,293.0"/>
<path d="M420.0,305.0L424.0,312.0L432.0,317.0L440.0,319.0L444.0,315.0L452.0,319.0L460.0,317.0L467.6,310.0"/>
<path d="M396.0,309.0L398.0,319.0L404.0,321.0L412.0,318.0L424.0,312.0"/>
<path d="M330.0,304.0L335.0,301.0L337.0,296.0L333.0,294.0L324.4,295.0"/>
<path d="M333.0,299.0L340.0,300.0L346.0,304.0L348.0,304.0L351.0,304.0L358.0,304.0L366.0,302.0L370.0,299.0L370.0,294.0"/>
<path d="M356.0,316.6L357.0,304.0"/>
<path d="M362.0,316.0L362.4,304.0"/>
<path d="M368.0,315.0L369.0,302.0"/>
<path d="M345.0,318.6L346.0,309.0L343.0,305.0L340.0,300.0"/>
<path d="M337.0,312.0L340.0,308.0L343.0,305.0"/>
<path d="M385.0,323.0L394.0,323.0L398.0,319.0"/>
<path d="M384.0,335.0L390.0,334.0L394.0,329.0L394.0,323.0"/>
<path d="M389.0,343.0L394.0,340.0L398.0,333.0L404.0,321.0"/>
<path d="M432.0,317.0L431.0,325.0L430.0,333.0L432.0,341.0L431.0,345.0"/>
<path d="M440.0,319.0L441.0,327.0L439.0,331.0L430.0,331.0"/>
<path d="M439.0,331.0L456.0,339.0"/>
<path d="M452.0,319.0L453.0,329.0L458.0,335.0"/>
<path d="M457.0,295.0L460.0,300.0L463.0,302.0"/>
<path d="M391.0,345.0L400.0,345.0L403.0,350.0L410.0,349.0L414.0,351.0L413.0,360.0L418.0,360.0L420.0,363.0L428.0,365.0L431.0,363.0L429.0,353.0L430.0,342.0L429.0,330.0"/>
<path d="M413.0,360.0L413.0,376.0"/>
<path d="M390.0,375.0L409.0,377.0L418.0,376.4L426.0,377.0L433.0,371.0L439.0,369.0L440.0,364.0"/>
<path d="M409.0,377.0L409.0,388.0L408.0,400.0L399.0,402.0"/>
<path d="M408.0,400.0L413.0,398.0L420.0,399.0L426.0,391.0L430.0,388.0L420.0,378.0L418.0,376.4"/>
<path d="M429.0,353.0L436.0,352.0L439.0,358.0L440.0,364.0"/>
<path d="M440.0,356.0L442.0,363.0L443.0,373.0L441.0,369.0L440.0,364.0"/>
<path d="M441.0,361.0L448.0,360.0L455.6,358.0"/>
<path d="M433.0,371.0L437.0,378.0L436.0,386.0L430.0,388.0L435.0,390.0L437.0,399.0"/>
<path d="M422.6,408.0L424.0,406.0L426.4,406.0L427.6,408.4L425.6,410.4L423.4,410.0L422.6,408.0"/>
<path d="M431.6,400.0L433.0,398.6L434.6,400.0L433.6,402.0L432.0,401.6L431.6,400.0"/>
<path d="M383.4,178.5L384.5,175.9L385.0,171.6L386.6,168.5L389.2,164.8L391.9,161.6L392.9,160.0"/>
<path d="M406.7,163.7L406.2,161.1L405.6,160.0"/>
<path d="M415.7,176.1L418.4,170.6L416.2,166.4L415.7,162.1L416.2,160.0"/>
<path d="M407.8,179.6L414.1,180.1"/>
<path d="M406.2,182.8L414.1,182.8"/>
<path d="M403.5,185.9L407.8,186.5L413.1,185.4"/>
<path d="M414.1,176.9L415.2,180.1L414.1,182.8L413.1,185.4L416.2,187.5"/>
<path d="M390.3,190.7L390.8,193.9L389.8,197.1L394.0,198.1L397.7,199.4L401.9,200.0L405.6,199.7L409.4,200.2"/>
<path d="M403.5,187.7L407.8,188.6L409.9,191.8L409.4,196.5L409.4,200.2"/>
<path d="M377.1,190.7L376.5,193.9L374.9,197.1L375.5,200.2L377.1,202.4"/>
<path d="M389.8,197.1L387.1,199.2L388.7,201.8L387.6,203.9L384.5,204.5L381.8,206.1L377.1,205.5"/>
<path d="M368.6,196.0L371.8,196.5L374.4,198.6L375.5,200.2"/>
<path d="M377.1,202.4L376.5,205.5L374.9,207.1L376.0,209.8L377.1,212.9"/>
<path d="M388.7,201.8L392.9,203.4L397.7,199.4"/>
<path d="M387.6,203.9L391.9,205.0L396.1,204.5L399.3,202.9L405.6,202.4L409.4,200.2"/>
<path d="M377.1,207.1L382.4,208.7L386.6,209.2L390.8,208.2L391.9,205.0"/>
<path d="M391.9,205.0L392.9,208.7L397.2,210.8L402.5,209.2L405.6,205.5L405.6,202.4"/>
<path d="M405.6,205.5L412.0,205.0L416.2,206.6L419.4,210.8L418.9,215.1"/>
<path d="M402.5,209.2L403.5,212.9L407.8,215.1L414.1,215.1L418.9,215.1"/>
<path d="M407.8,188.6L409.4,191.8L414.1,192.8L418.4,191.8L420.5,188.6L418.4,185.4L416.2,187.5"/>
<path d="M420.5,191.8L424.7,192.8L428.9,194.9L430.0,198.1"/>
<path d="M409.4,196.5L414.1,196.0L418.4,191.8"/>
<path d="M392.9,208.7L394.0,212.9L397.2,215.1L400.9,214.0L403.5,212.9"/>
<path d="M397.2,215.1L398.2,218.8L401.4,220.0"/>
<path d="M348.5,218.4L347.8,223.3L347.1,229.0L346.4,234.0"/>
<path d="M363.4,217.4L368.3,218.4L374.0,219.1"/>
<path d="M468.0,208.6L462.0,205.0L458.0,202.0L460.0,198.0L468.0,197.0L476.0,198.0L484.0,193.0L490.0,189.0L498.0,187.4L506.0,190.0L512.0,189.4L518.0,193.0L524.0,197.0L530.0,200.0L536.0,204.0L539.0,204.0"/>
<path d="M539.0,204.0L543.0,202.0L550.0,200.0L558.0,195.4L559.0,200.0L566.0,201.0L574.0,200.6L582.0,202.6L590.0,201.4L598.0,200.6L599.6,197.0"/>
<path d="M476.0,224.0L479.0,219.0L484.0,215.0L488.0,217.0L494.0,216.0L500.0,219.0L506.0,224.0L512.0,223.0L516.0,219.0L520.0,218.0L524.0,219.0L530.0,214.0"/>
<path d="M479.0,219.0L484.0,223.0L490.0,227.0L497.0,231.0L502.0,234.0"/>
<path d="M477.0,233.0L484.0,234.0L492.0,236.0L498.0,239.0L502.0,234.0L508.0,233.0L515.0,232.0L520.0,228.0"/>
<path d="M506.0,224.0L509.0,228.0L515.0,227.0L520.0,228.0"/>
<path d="M450.0,220.6L456.0,219.4L461.0,218.6L464.0,221.0L467.6,227.0"/>
<path d="M448.0,217.4L454.0,216.0L460.0,215.4L462.4,218.0"/>
<path d="M494.0,245.0L495.0,237.0L493.0,231.0L498.0,229.0L502.0,230.0L510.0,227.0L518.0,226.0L523.0,229.0"/>
<path d="M523.0,234.0L514.0,237.0L510.0,243.0L504.0,247.0L498.0,248.0L494.0,245.0L496.0,253.0L492.0,258.0"/>
<path d="M440.0,235.0L448.0,234.0L460.0,232.0L466.0,230.0L469.0,225.0L468.0,221.0"/>
<path d="M466.0,230.0L469.0,239.0L468.0,245.0L471.0,253.0"/>
<path d="M448.0,234.0L449.0,242.0L455.0,238.0L460.0,232.0"/>
<path d="M449.0,243.0L460.0,250.0L468.0,252.0L471.0,253.0"/>
<path d="M440.0,256.0L444.0,252.0L449.0,243.0L443.6,243.0L440.0,243.0"/>
<path d="M460.0,294.0L468.0,288.0L480.0,286.0L485.0,287.0"/>
<path d="M485.0,287.0L492.0,280.0L489.0,273.0L484.0,268.0"/>
<path d="M489.0,273.0L492.0,268.0"/>
<path d="M589.6,275.0L592.0,279.0L591.0,284.0L594.0,287.0L598.0,285.0L602.0,288.0L605.0,293.0L606.0,297.0"/>
<path d="M602.0,270.0L600.0,275.0L603.0,279.0L606.0,284.0L609.0,291.0L610.0,296.0L607.0,299.0"/>
<path d="M597.0,295.0L599.0,292.0L605.0,293.0"/>
<path d="M591.0,304.6L592.0,309.0L594.0,315.0"/>
<path d="M602.0,299.0L605.0,298.0L609.0,303.0"/>
</g></svg>
<div class="lbl" style="left:74.4px">No data</div>
<div class="lbl" style="left:203.3px">No measures</div>
<div class="lbl" style="left:373.2px">Recommended</div>
<div class="lbl" style="left:542.4px">Required (except essentials)</div>
<div class="lbl" style="left:713.1px">Required (few exceptions)</div>
<div class="tick" style="left:75px"></div>
<div class="tick" style="left:203px"></div>
<div class="tick" style="left:373px"></div>
<div class="tick" style="left:543px"></div>
<div class="tick" style="left:713px"></div>
<svg width="850" height="600" viewBox="0 0 850 600" style="pointer-events:none">
<defs><pattern id="hatch" patternUnits="userSpaceOnUse" width="4" height="4" patternTransform="rotate(45)"><rect width="4" height="4" fill="#fff"/><line x1="0" y1="0" x2="0" y2="4" stroke="#ccc" stroke-width="1.6"/></pattern></defs>
<rect x="51.2" y="537.7" width="46.8" height="10.3" fill="url(#hatch)" stroke="#ccc" stroke-width="1"/>
</svg>
<div class="bar" style="left:118px;width:170.5px;background:#2c7bb6"></div>
<div class="bar" style="left:288.4px;width:170.3px;background:#abd9e9"></div>
<div class="bar" style="left:458.6px;width:170.3px;background:#fdae61"></div>
<div class="bar" style="left:628.8px;width:170.4px;background:#d7191c"></div>
<div class="footer" style="left:16.5px"><b>Data source:</b> Blavatnik School of Government, University of Oxford (2023)</div>
<div class="footer" style="right:19.9px">OurWorldinData.org/coronavirus | CC BY</div>
</body>
</html>
